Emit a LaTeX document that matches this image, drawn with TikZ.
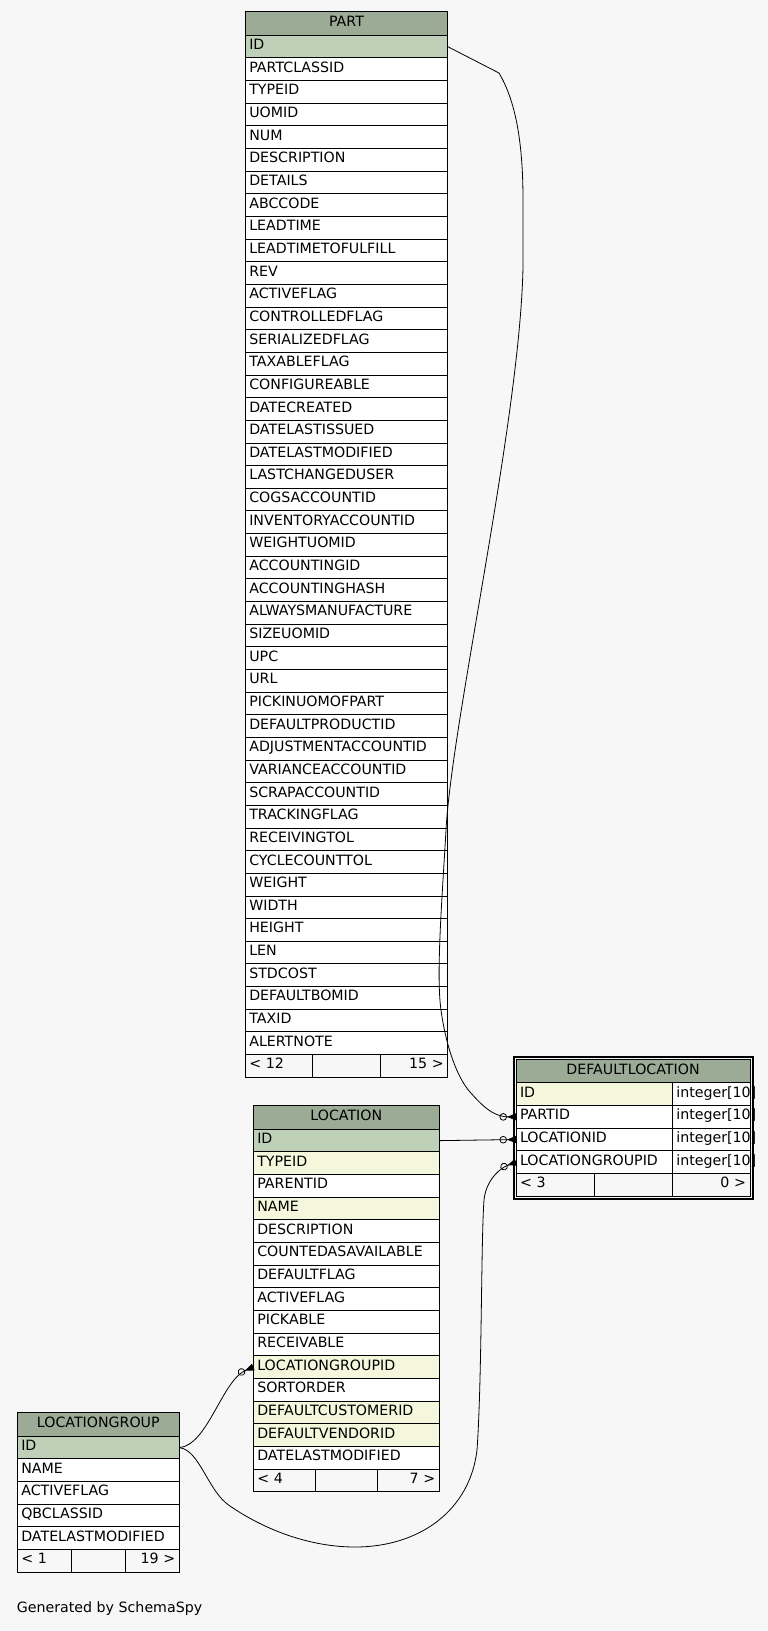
\documentclass[tikz,border=0pt]{standalone}
\usepackage{fontspec}
\setmainfont{DejaVu Sans}
\usetikzlibrary{positioning,fit,arrows.meta}
\definecolor{bgGray}{HTML}{F7F7F7}
\definecolor{headGreen}{HTML}{9BAB96}
\definecolor{keyGreen}{HTML}{BED1B8}
\definecolor{idxYellow}{HTML}{F4F7DC}
\tikzset{
myHead/.style={
	rectangle,draw,fill=headGreen,line width=1pt,
	outer sep=0pt,inner xsep=4pt,inner ysep=0pt,
	minimum height=23.6pt,text height=8pt,text depth=2pt,
	text width=#1,align=center
}
, myRow/.style={
	rectangle,draw,fill=white,line width=1pt,
	outer sep=0pt,inner xsep=4pt,inner ysep=0pt,
	minimum height=22.65pt,text height=8pt,text depth=2pt,
	text width=#1,align=left
}
, myFoot/.style={
	myRow=#1,fill=bgGray
}
, myFrame/.style={
	draw,line width=2pt,inner sep=2.5pt
}
% link
, myFk/.style={
	-{Circle[open,length=7.5pt,sep=0pt]Triangle[reversed,length=9pt,width=7pt]},
	line width=0.8pt
}
}

\begin{document}
\begin{tikzpicture}[x=1pt,y=-1pt,font=\fontsize{14.2pt}{17pt}\selectfont]
	\fill[bgGray] (0,0) rectangle (768,1631);
	\useasboundingbox (0,0) rectangle (768,1631);

	% PART
	\node[myHead=194.4pt,anchor=north west] (part0) at (245.3,11.7) {PART};
	\foreach \col/\fc [count=\i] in {ID/keyGreen, PARTCLASSID/white, TYPEID/white,
		UOMID/white, NUM/white, DESCRIPTION/white, DETAILS/white, ABCCODE/white,
		LEADTIME/white, LEADTIMETOFULFILL/white, REV/white, ACTIVEFLAG/white,
		CONTROLLEDFLAG/white, SERIALIZEDFLAG/white, TAXABLEFLAG/white,
		CONFIGUREABLE/white, DATECREATED/white, DATELASTISSUED/white,
		DATELASTMODIFIED/white, LASTCHANGEDUSER/white, COGSACCOUNTID/white,
		INVENTORYACCOUNTID/white, WEIGHTUOMID/white, ACCOUNTINGID/white,
		ACCOUNTINGHASH/white, ALWAYSMANUFACTURE/white, SIZEUOMID/white, UPC/white,
		URL/white, PICKINUOMOFPART/white, DEFAULTPRODUCTID/white,
		ADJUSTMENTACCOUNTID/white, VARIANCEACCOUNTID/white, SCRAPACCOUNTID/white,
		TRACKINGFLAG/white, RECEIVINGTOL/white, CYCLECOUNTTOL/white, WEIGHT/white,
		WIDTH/white, HEIGHT/white, LEN/white, STDCOST/white, DEFAULTBOMID/white,
		TAXID/white, ALERTNOTE/white} {
		\pgfmathtruncatemacro\j{\i-1}
		\node[myRow=194.4pt,fill=\fc] (part\i) [below=0pt of part\j] {\col};
	}
	\node[myFoot=59.47pt,anchor=north west] (partF1) at (part45.south west) {< 12};
	\node[myFoot=59.47pt] (partF2) [right=0pt of partF1] {};
	\node[myFoot=59.47pt,align=right] (partF3) [right=0pt of partF2] {15 >};

	% DEFAULTLOCATION
	\node[myHead=226pt,anchor=north west] (dl0) at (516,1059.3) {DEFAULTLOCATION};
	\foreach \col/\fc [count=\i] in {ID/idxYellow, PARTID/white, LOCATIONID/white,
		LOCATIONGROUPID/white} {
		\pgfmathtruncatemacro\j{\i-1}
		\node[myRow=148.3pt,fill=\fc,anchor=north west] (dl\i) at (dl\j.south west) {\col};
		\node[myRow=69.7pt] (dlType\i) [right=0pt of dl\i] {integer[10]};
	}
	\node[myFoot=70pt,anchor=north west] (dlF1) at (dl4.south west) {< 3};
	\node[myFoot=70pt] (dlF2) [right=0pt of dlF1] {};
	\node[myFoot=70pt,align=right] (dlF3) [right=0pt of dlF2] {0 >};
	\node[myFrame,fit=(dl0)(dlF3)] (dlFrame) {};

	% LOCATION
	\node[myHead=178pt,anchor=north west] (loc0) at (253.3,1105.7) {LOCATION};
	\foreach \col/\fc [count=\i] in {ID/keyGreen, TYPEID/idxYellow, PARENTID/white,
		NAME/idxYellow, DESCRIPTION/white, COUNTEDASAVAILABLE/white,
		DEFAULTFLAG/white, ACTIVEFLAG/white, PICKABLE/white, RECEIVABLE/white,
		LOCATIONGROUPID/idxYellow, SORTORDER/white, DEFAULTCUSTOMERID/idxYellow,
		DEFAULTVENDORID/idxYellow, DATELASTMODIFIED/white} {
		\pgfmathtruncatemacro\j{\i-1}
		\node[myRow=178pt,fill=\fc] (loc\i) [below=0pt of loc\j] {\col};
	}
	\node[myFoot=54pt,anchor=north west] (locF1) at (loc15.south west) {< 4};
	\node[myFoot=54pt] (locF2) [right=0pt of locF1] {};
	\node[myFoot=54pt,align=right] (locF3) [right=0pt of locF2] {7 >};

	% LOCATIONGROUP
	\node[myHead=154pt,anchor=north west] (lg0) at (17.3,1412.7) {LOCATIONGROUP};
	\foreach \col/\fc [count=\i] in {ID/keyGreen, NAME/white, ACTIVEFLAG/white,
		QBCLASSID/white, DATELASTMODIFIED/white} {
		\pgfmathtruncatemacro\j{\i-1}
		\node[myRow=154pt,fill=\fc] (lg\i) [below=0pt of lg\j] {\col};
	}
	\node[myFoot=46pt,anchor=north west] (lgF1) at (lg5.south west) {< 1};
	\node[myFoot=46pt] (lgF2) [right=0pt of lgF1] {};
	\node[myFoot=46pt,align=right] (lgF3) [right=0pt of lgF2] {19 >};

	\node[inner sep=0pt,anchor=base west] (genBy) at (16.7,1612.7) {Generated by SchemaSpy};

	% links
	\draw[myFk] (part1.east) -- (499,73) .. controls (515,100) and (523,140) .. (523,200)
		-- (523,267) .. controls (520,420) and (452,720) .. (446,830)
		.. controls (442,900) and (436,975) .. (441,1010)
		.. controls (445,1040) and (455,1075) .. (470,1092)
		.. controls (480,1103) and (492,1116.9) .. (dl2.west);
	\draw[myFk] (loc1.east) -- (dl3.west);
	\draw[myFk] (lg1.east) .. controls (208,1445) and (222,1380) .. (loc11.west);
	\draw[myFk] (lg1.east) .. controls (200,1450) and (208,1492) .. (230,1506)
		.. controls (265,1530) and (310,1547) .. (355,1547)
		.. controls (420,1547) and (470,1510) .. (477,1450)
		.. controls (482,1380) and (481,1240) .. (484,1200)
		.. controls (486,1180) and (500,1168) .. (dl4.west);
\end{tikzpicture}
\end{document}
